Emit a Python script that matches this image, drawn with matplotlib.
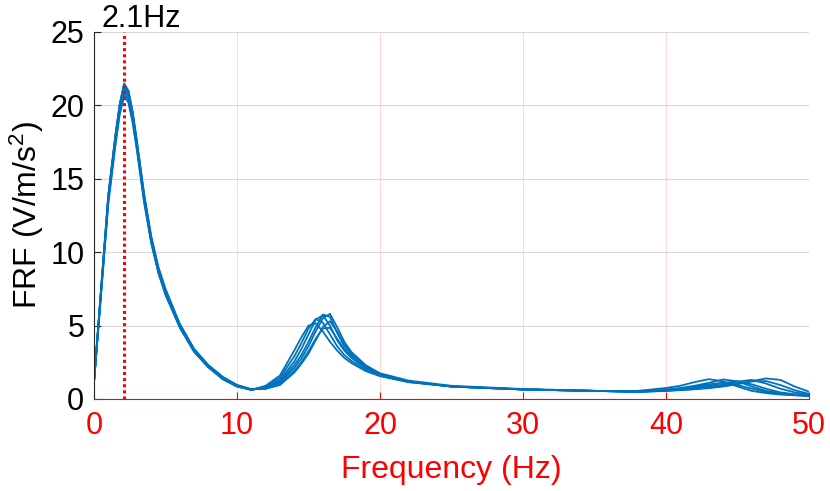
"""FRF curves of several sensor units with the first natural frequency marked."""

import matplotlib

matplotlib.use("Agg")
import matplotlib.pyplot as plt

plt.rcParams["font.family"] = ["Liberation Sans", "DejaVu Sans"]
plt.rcParams["mathtext.default"] = "regular"

# frequency grid (Hz) shared by all curves
freq = [0, 0.5, 1, 1.5, 1.8, 2.1, 2.4, 2.7, 3, 3.5, 4, 4.5, 5, 6, 7, 8, 9, 10,
        11, 12, 13, 14, 14.5, 15, 15.5, 16, 16.5, 17, 17.5, 18,
        19, 20, 22, 25, 30, 35,
        38, 40, 41, 42, 43, 44, 45, 46, 47, 48, 49, 50]

frf_1 = [1.2, 7.6, 13.9, 18.0, 20.1, 21.5, 21.0, 19.5, 17.4, 13.8, 10.9, 8.8, 7.3, 5.0, 3.3, 2.2, 1.35, 0.85,
         0.62, 0.9, 1.6, 3.3, 4.2, 5.0, 5.15, 4.6, 3.9, 3.3, 2.8, 2.45,
         1.9, 1.55, 1.15, 0.85, 0.65, 0.55,
         0.55, 0.75, 0.9, 1.15, 1.35, 1.2, 0.85, 0.55, 0.4, 0.3, 0.25, 0.2]
frf_2 = [1.2, 7.5, 13.8, 17.9, 20.0, 21.3, 20.8, 19.3, 17.3, 13.7, 10.8, 8.7, 7.2, 4.9, 3.25, 2.15, 1.35, 0.85,
         0.62, 0.85, 1.45, 2.9, 3.8, 4.8, 5.45, 5.2, 4.4, 3.6, 3.0, 2.6,
         2.0, 1.6, 1.15, 0.85, 0.65, 0.55,
         0.52, 0.65, 0.75, 0.9, 1.1, 1.33, 1.2, 0.85, 0.55, 0.4, 0.3, 0.22]
frf_3 = [1.2, 7.4, 13.6, 17.7, 19.8, 21.0, 20.6, 19.2, 17.2, 13.6, 10.8, 8.7, 7.2, 4.95, 3.3, 2.2, 1.4, 0.88,
         0.63, 0.8, 1.3, 2.55, 3.4, 4.4, 5.4, 5.7, 5.0, 4.0, 3.3, 2.8,
         2.1, 1.65, 1.2, 0.85, 0.65, 0.55,
         0.5, 0.6, 0.68, 0.78, 0.92, 1.1, 1.2, 1.0, 0.7, 0.45, 0.32, 0.22]
frf_4 = [1.2, 7.3, 13.5, 17.5, 19.6, 20.8, 20.4, 19.0, 17.1, 13.5, 10.7, 8.6, 7.1, 4.9, 3.25, 2.2, 1.4, 0.9,
         0.64, 0.75, 1.2, 2.3, 3.0, 3.9, 4.9, 5.75, 5.6, 4.5, 3.6, 3.0,
         2.2, 1.7, 1.2, 0.85, 0.65, 0.55,
         0.5, 0.58, 0.64, 0.72, 0.83, 0.98, 1.18, 1.3, 1.05, 0.7, 0.45, 0.3]
frf_5 = [1.2, 7.5, 13.8, 17.8, 19.9, 21.2, 20.8, 19.4, 17.4, 13.9, 11.0, 8.9, 7.4, 5.1, 3.4, 2.3, 1.5, 0.95,
         0.65, 0.72, 1.1, 2.1, 2.75, 3.6, 4.6, 5.5, 5.8, 4.9, 3.9, 3.2,
         2.3, 1.75, 1.25, 0.9, 0.68, 0.56,
         0.48, 0.55, 0.6, 0.66, 0.74, 0.85, 1.0, 1.22, 1.4, 1.3, 0.85, 0.5]
frf_6 = [1.2, 7.2, 13.3, 17.3, 19.4, 20.6, 20.2, 18.8, 16.9, 13.4, 10.6, 8.6, 7.1, 4.85, 3.2, 2.15, 1.4, 0.9,
         0.66, 0.7, 1.0, 1.9, 2.5, 3.25, 4.1, 4.8, 4.85, 4.1, 3.4, 2.85,
         2.1, 1.65, 1.2, 0.85, 0.65, 0.55,
         0.5, 0.62, 0.7, 0.85, 1.0, 1.1, 0.95, 0.7, 0.48, 0.35, 0.27, 0.2]
frf_7 = [1.2, 7.6, 13.9, 18.0, 20.1, 21.4, 21.0, 19.6, 17.6, 14.0, 11.1, 9.0, 7.5, 5.1, 3.4, 2.3, 1.5, 0.95,
         0.67, 0.7, 0.95, 1.8, 2.4, 3.1, 4.0, 4.9, 5.3, 4.6, 3.7, 3.05,
         2.2, 1.7, 1.2, 0.85, 0.65, 0.55,
         0.48, 0.56, 0.62, 0.68, 0.78, 0.9, 1.05, 1.2, 1.22, 0.95, 0.6, 0.35]

curves = [frf_1, frf_2, frf_3, frf_4, frf_5, frf_6, frf_7]
f_natural = 2.1
x_ticks = [0, 10, 20, 30, 40, 50]
y_ticks = [0, 5, 10, 15, 20, 25]

fig = plt.figure(figsize=(8.3, 4.91), dpi=100)
ax = fig.add_axes([0.1133, 0.1874, 0.8614, 0.7475])

for frf in curves:
    ax.plot(freq, frf, color="#0072BD", linewidth=1.3)

ax.axvline(f_natural, color="red", linestyle=(0, (1, 1)), linewidth=2.2)
ax.text(f_natural + 1.2, 25.35, f"{f_natural}Hz", ha="center", va="baseline",
        fontsize=22, color="black")

ax.set_xlim(0, 50)
ax.set_ylim(0, 25)
ax.set_xticks(x_ticks)
ax.set_yticks(y_ticks)

ax.grid(axis="x", color="red", alpha=0.15, linewidth=0.8)
ax.grid(axis="y", color="#d9d9d9", linewidth=0.8)
ax.set_axisbelow(True)

for side in ("top", "right"):
    ax.spines[side].set_visible(False)
ax.spines["left"].set_color("#262626")
ax.spines["bottom"].set_color("red")

ax.tick_params(axis="x", direction="in", colors="red", labelsize=22, length=5, pad=9)
ax.tick_params(axis="y", direction="in", colors="#262626", labelcolor="black",
               labelsize=22, length=5, pad=7)

ax.set_xlabel("Frequency (Hz)", fontsize=23, color="red", labelpad=10)
ax.set_ylabel("FRF (V/m/s$^2$)", fontsize=23, color="black", labelpad=3)

fig.savefig("out.png", dpi=100)
